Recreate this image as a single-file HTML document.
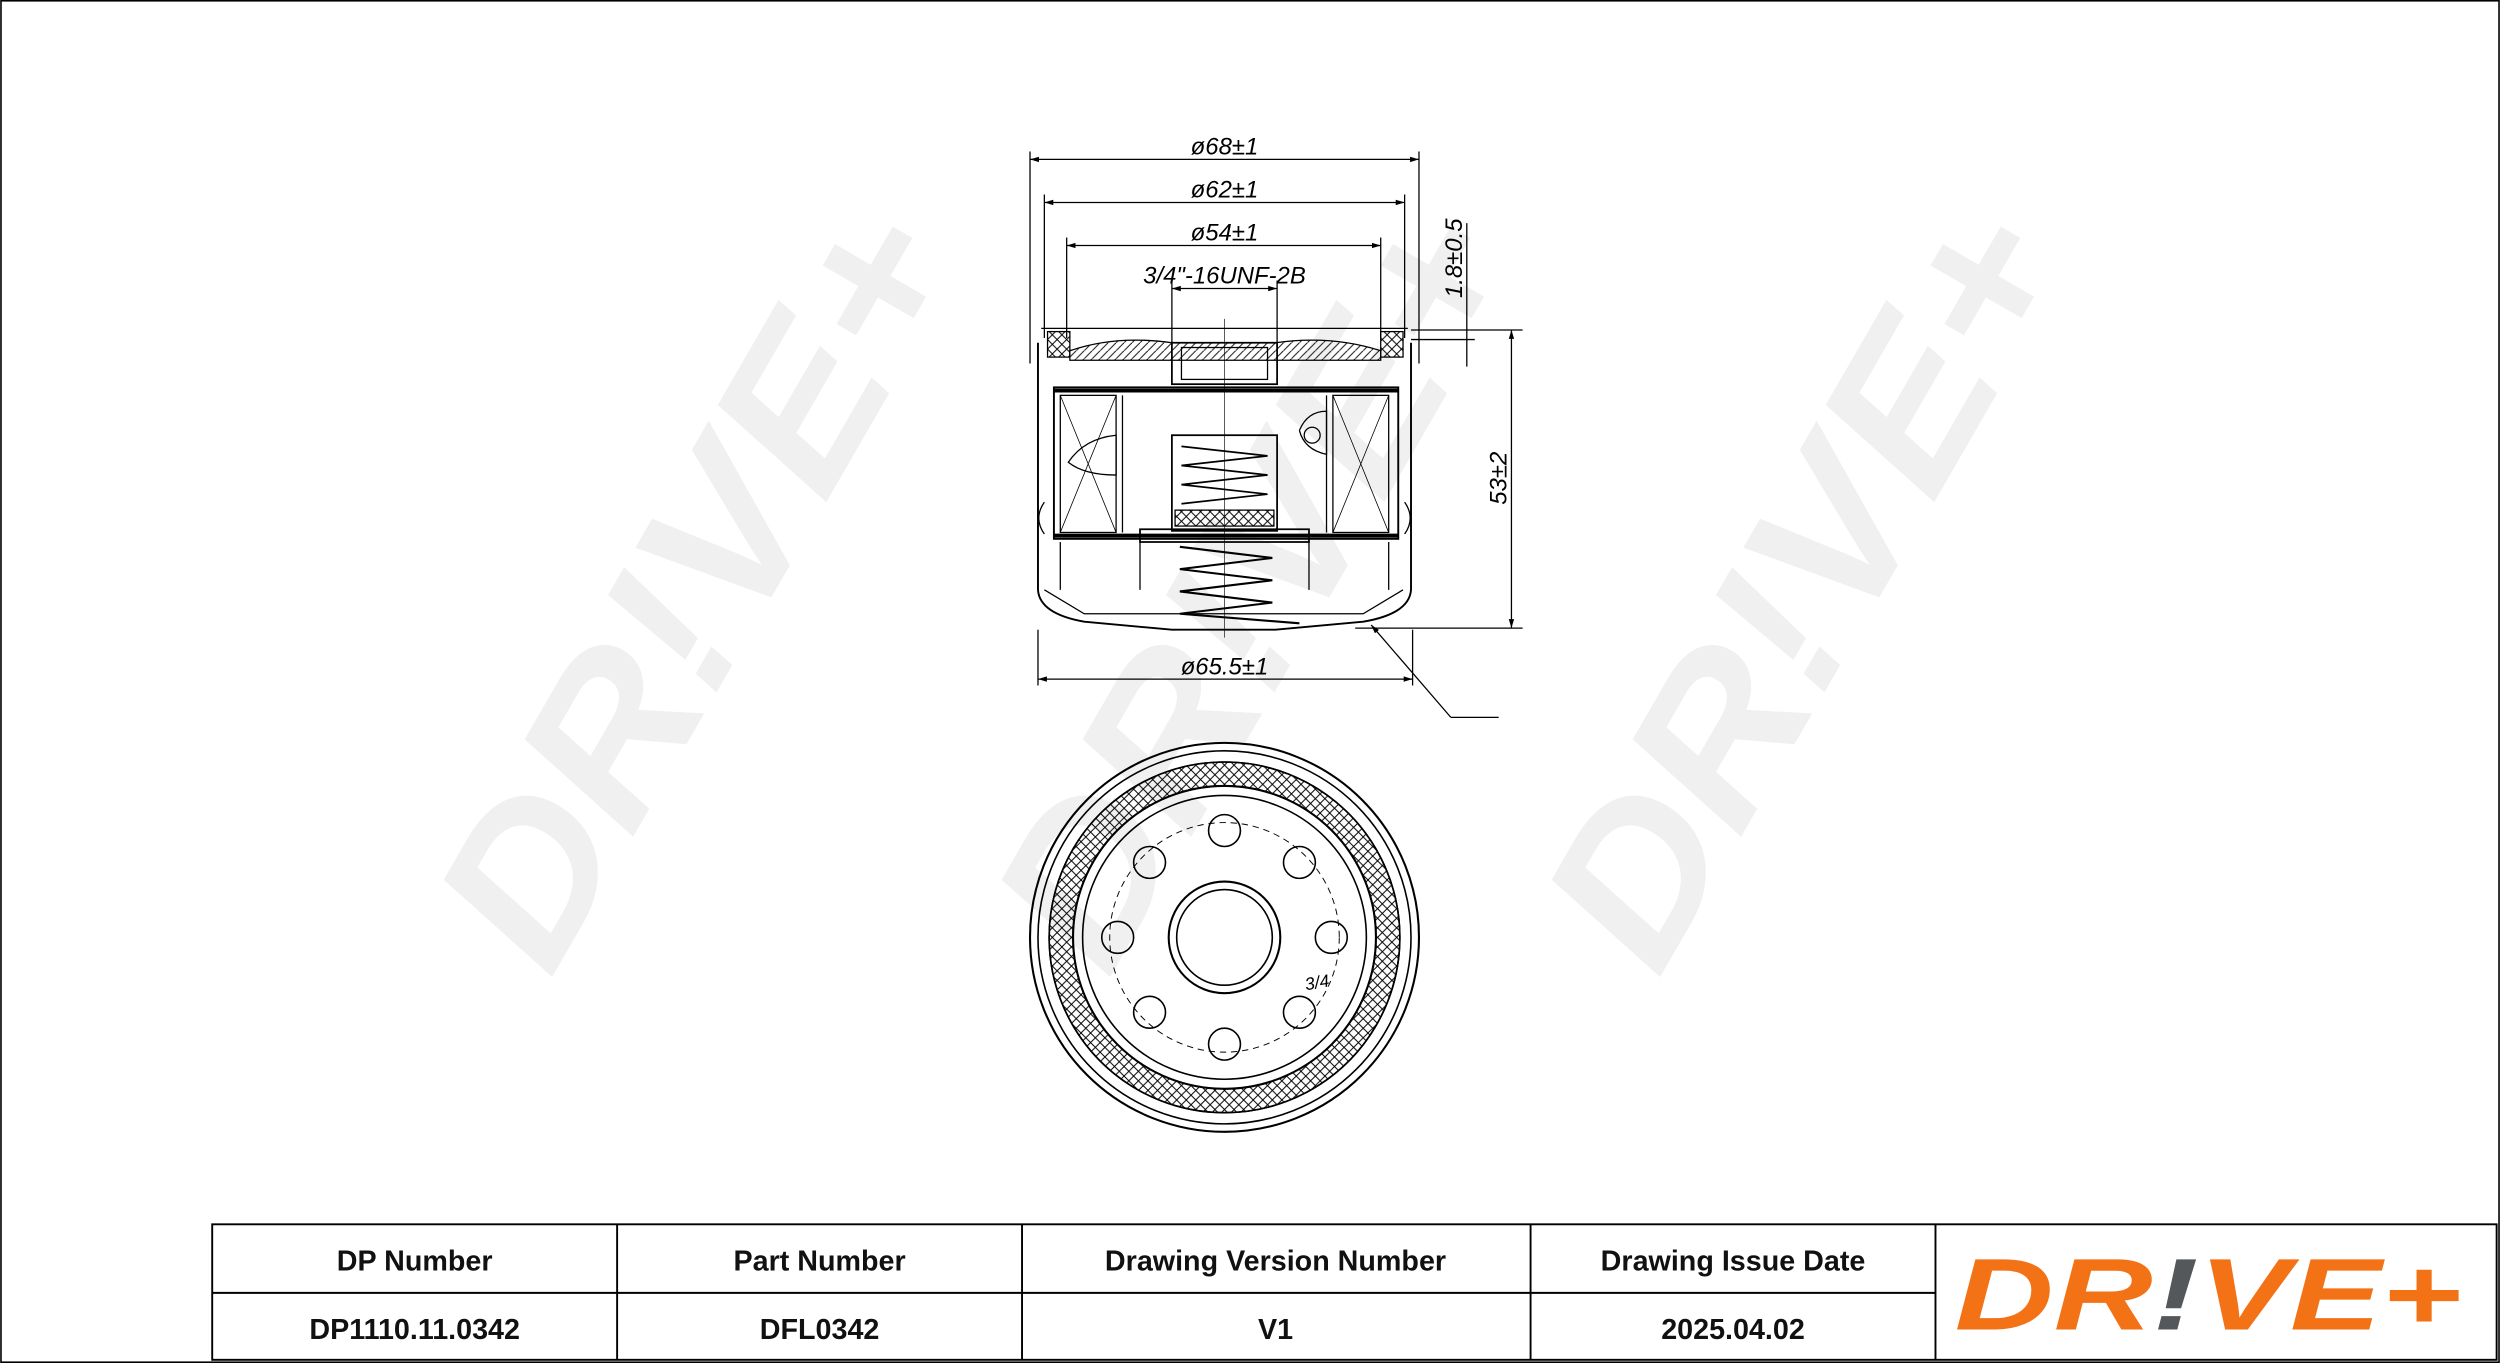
<!DOCTYPE html>
<html><head><meta charset="utf-8"><style>html,body{margin:0;padding:0;background:#fff}svg{display:block}</style></head>
<body>
<svg width="2500" height="1363" viewBox="0 0 1568 855" xmlns="http://www.w3.org/2000/svg" font-family="Liberation Sans, sans-serif">
<defs>
<pattern id="xh" width="6" height="6" patternUnits="userSpaceOnUse"><path d="M0 0L6 6M6 0L0 6" stroke="#000" stroke-width="0.6"/></pattern>
<pattern id="dh" width="5" height="5" patternUnits="userSpaceOnUse"><path d="M0 5L5 0" stroke="#000" stroke-width="0.6"/></pattern>
<marker id="ar" viewBox="0 0 10 10" refX="10" refY="5" markerWidth="7" markerHeight="7" orient="auto-start-reverse"><path d="M0 2L10 5L0 8Z" fill="#000"/></marker>
</defs>
<rect x="0.5" y="0.5" width="1567" height="854" fill="#fff" stroke="#000" stroke-width="1"/>
<g fill="#f0f0f0" font-weight="bold" font-style="italic" font-size="130">
<text transform="translate(345,615) rotate(-60)" textLength="520" lengthAdjust="spacingAndGlyphs">DR!VE+</text>
<text transform="translate(695,615) rotate(-60)" textLength="520" lengthAdjust="spacingAndGlyphs">DR!VE+</text>
<text transform="translate(1040,615) rotate(-60)" textLength="520" lengthAdjust="spacingAndGlyphs">DR!VE+</text>
</g>
<g stroke="#000" fill="none" stroke-width="0.8">
<line x1="646" y1="95" x2="646" y2="228"/><line x1="890" y1="95" x2="890" y2="228"/>
<line x1="646" y1="100" x2="890" y2="100" marker-start="url(#ar)" marker-end="url(#ar)"/>
<line x1="655" y1="122" x2="655" y2="212"/><line x1="881" y1="122" x2="881" y2="212"/>
<line x1="655" y1="127" x2="881" y2="127" marker-start="url(#ar)" marker-end="url(#ar)"/>
<line x1="669" y1="149" x2="669" y2="212"/><line x1="866" y1="149" x2="866" y2="212"/>
<line x1="669" y1="154" x2="866" y2="154" marker-start="url(#ar)" marker-end="url(#ar)"/>
<line x1="735" y1="176" x2="735" y2="215"/><line x1="801" y1="176" x2="801" y2="215"/>
<line x1="735" y1="181" x2="801" y2="181" marker-start="url(#ar)" marker-end="url(#ar)"/>
<line x1="651" y1="395" x2="651" y2="430"/><line x1="886" y1="395" x2="886" y2="430"/>
<line x1="651" y1="426" x2="886" y2="426" marker-start="url(#ar)" marker-end="url(#ar)"/>
<line x1="885" y1="207" x2="955" y2="207"/><line x1="885" y1="213" x2="925" y2="213"/>
<line x1="850" y1="394" x2="955" y2="394"/>
<line x1="948" y1="207" x2="948" y2="394" marker-start="url(#ar)" marker-end="url(#ar)"/>
<line x1="920" y1="140" x2="920" y2="230"/>
<line x1="910" y1="450" x2="860" y2="392" marker-end="url(#ar)"/><line x1="910" y1="450" x2="940" y2="450"/>
<line x1="768" y1="200" x2="768" y2="400" stroke-width="0.4"/>
<path d="M651 215 L651 370 Q652 385 680 390 L735 395 L800 395 L855 390 Q884 385 885 370 L885 215" stroke-width="1.2"/>
<path d="M655 370 L680 385 L855 385 L880 370" stroke-width="0.8"/>
<path d="M655 315 Q648 325 655 335 M881 315 Q888 325 881 335"/>
<rect x="657" y="208" width="14" height="16" fill="url(#xh)"/><rect x="866" y="208" width="14" height="16" fill="url(#xh)"/>
<path d="M671 220 Q700 210 735 215 L800 215 Q835 210 866 220 L866 226 L671 226Z" fill="url(#dh)"/>
<rect x="735" y="215" width="66" height="26" stroke-width="1.1"/>
<rect x="741" y="218" width="54" height="20"/>
<line x1="653" y1="206" x2="883" y2="206"/>
<rect x="661" y="243" width="216" height="95" stroke-width="1.2"/>
<line x1="661" y1="245" x2="877" y2="245" stroke-width="2.5"/>
<line x1="661" y1="336" x2="877" y2="336" stroke-width="2.5"/>
<rect x="665" y="248" width="35" height="86"/><rect x="836" y="248" width="35" height="86"/>
<path d="M665 248L700 334M700 248L665 334M836 248L871 334M871 248L836 334" stroke-width="0.5"/>
<line x1="704" y1="248" x2="704" y2="334"/><line x1="832" y1="248" x2="832" y2="334"/>
<path d="M670 290 Q680 275 700 273 L700 298 Q680 298 670 290Z"/>
<circle cx="823" cy="273" r="5"/><path d="M815 270 Q820 258 832 258 L832 285 Q818 282 815 270"/>
<rect x="735" y="273" width="66" height="60" stroke-width="1.1"/>
<rect x="737" y="320" width="62" height="10" fill="url(#xh)"/>
<path d="M741 280 L795 286 L741 292 L795 298 L741 304 L795 310 L741 316" stroke-width="1.1"/>
<rect x="715" y="332" width="106" height="8" stroke-width="1.1"/>
<path d="M740 343 L798 350 L740 357 L798 364 L740 371 L798 378 L740 385 L815 391" stroke-width="1.3"/>
<path d="M665 340 L665 370 M715 340 L715 370 M821 340 L821 370 M871 340 L871 370"/>
</g>
<g font-style="italic" font-size="15" fill="#000" text-anchor="middle">
<text x="768" y="97">ø68±1</text>
<text x="768" y="124">ø62±1</text>
<text x="768" y="151">ø54±1</text>
<text x="768" y="178">3/4"-16UNF-2B</text>
<text x="768" y="423">ø65.5±1</text>
<text transform="translate(917,162) rotate(-90)">1.8±0.5</text>
<text transform="translate(945,300) rotate(-90)">53±2</text>
</g>
<g stroke="#000" fill="none" stroke-width="1">
<circle cx="768" cy="588" r="122" stroke-width="1.3"/>
<circle cx="768" cy="588" r="117"/>
<path d="M768 478 a110 110 0 1 0 0.01 0 Z M768 493 a95 95 0 1 1 -0.01 0 Z" fill="url(#xh)" fill-rule="evenodd"/>
<circle cx="768" cy="588" r="110"/>
<circle cx="768" cy="588" r="95" stroke-width="1.3"/>
<circle cx="768" cy="588" r="89"/>
<circle cx="768" cy="588" r="72" stroke-dasharray="4 3" stroke-width="0.6"/>
<circle cx="768" cy="588" r="35" stroke-width="1.3"/>
<circle cx="768" cy="588" r="30"/>
<circle cx="768" cy="521" r="10"/><circle cx="815" cy="541" r="10"/><circle cx="835" cy="588" r="10"/><circle cx="815" cy="635" r="10"/>
<circle cx="768" cy="655" r="10"/><circle cx="721" cy="635" r="10"/><circle cx="701" cy="588" r="10"/><circle cx="721" cy="541" r="10"/>
</g>
<text x="826" y="620" font-size="11" font-style="italic" text-anchor="middle" transform="rotate(-10 826 616)">3/4</text>
<g stroke="#000" stroke-width="1.2" fill="none">
<rect x="133" y="768" width="1433" height="85"/>
<line x1="133" y1="811" x2="1214" y2="811"/>
<line x1="387" y1="768" x2="387" y2="853"/><line x1="641" y1="768" x2="641" y2="853"/>
<line x1="960" y1="768" x2="960" y2="853"/><line x1="1214" y1="768" x2="1214" y2="853"/>
</g>
<g font-weight="bold" font-size="18" text-anchor="middle" fill="#111">
<text x="260" y="797">DP Number</text><text x="514" y="797">Part Number</text>
<text x="800" y="797">Drawing Version Number</text><text x="1087" y="797">Drawing Issue Date</text>
<text x="260" y="840">DP1110.11.0342</text><text x="514" y="840">DFL0342</text>
<text x="800" y="840">V1</text><text x="1087" y="840">2025.04.02</text>
</g>
<text x="1226" y="834" font-weight="bold" font-style="italic" font-size="64" fill="#f47216" textLength="318" lengthAdjust="spacingAndGlyphs">DR<tspan fill="#54585a">!</tspan>VE+</text>
</svg>
</body></html>
